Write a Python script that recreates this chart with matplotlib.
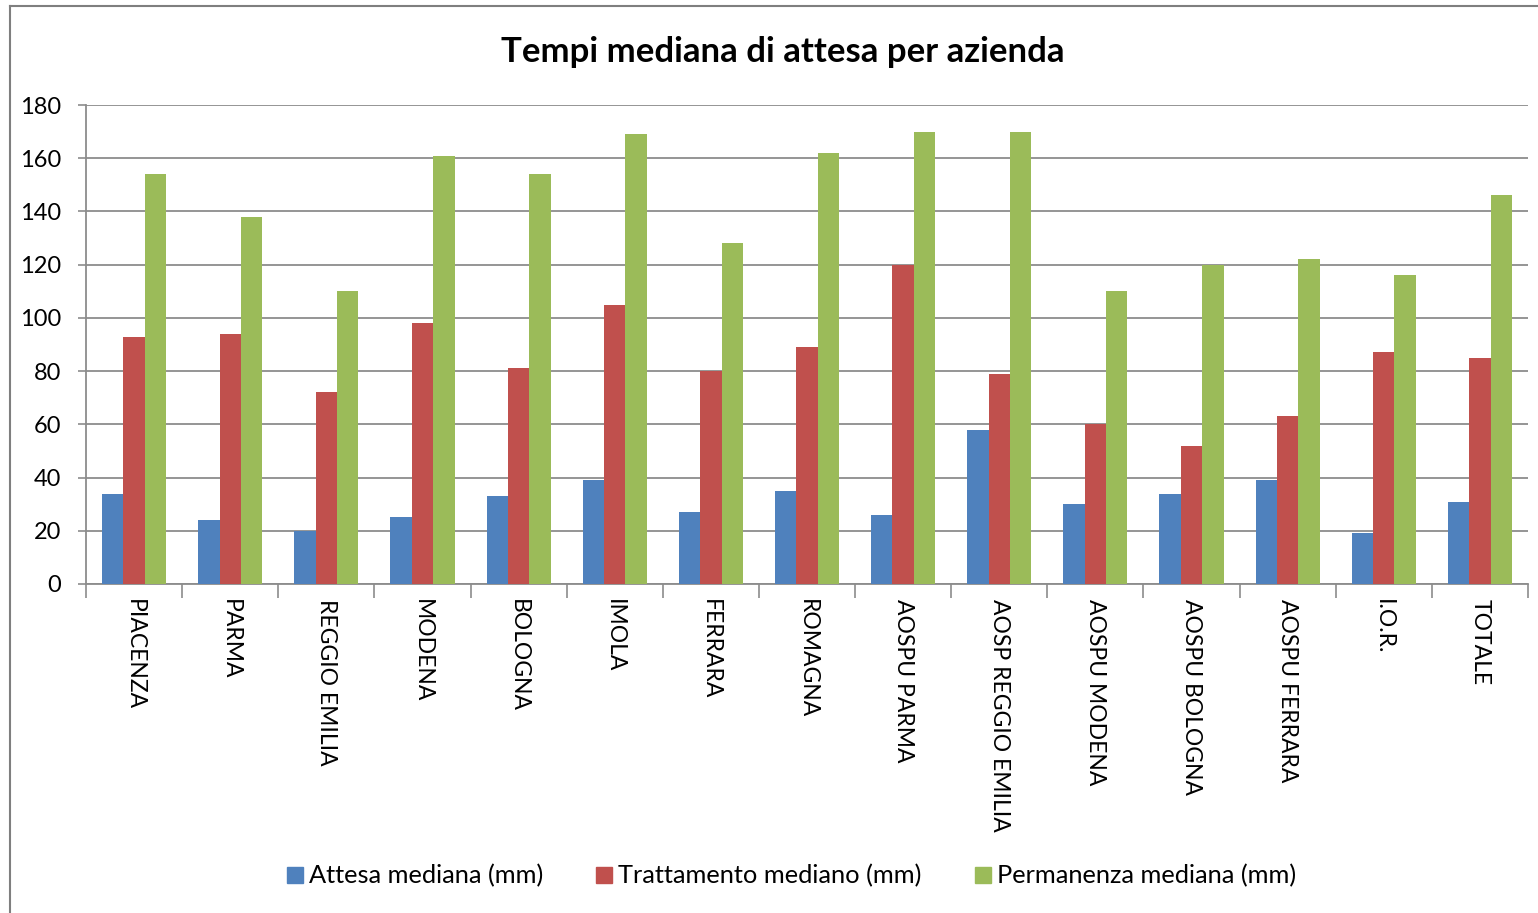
import numpy as np
import matplotlib
matplotlib.use("Agg")
import matplotlib.pyplot as plt
from matplotlib.lines import Line2D

plt.rcParams["font.family"] = ["Lato", "DejaVu Sans"]

aziende = ["PIACENZA", "PARMA", "REGGIO EMILIA", "MODENA", "BOLOGNA", "IMOLA",
           "FERRARA", "ROMAGNA", "AOSPU PARMA", "AOSP REGGIO EMILIA",
           "AOSPU MODENA", "AOSPU BOLOGNA", "AOSPU FERRARA", "I.O.R.", "TOTALE"]
attesa = [34, 24, 20, 25, 33, 39, 27, 35, 26, 58, 30, 34, 39, 19, 31]
trattamento = [93, 94, 72, 98, 81, 105, 80, 89, 120, 79, 60, 52, 63, 87, 85]
permanenza = [154, 138, 110, 161, 154, 169, 128, 162, 170, 170, 110, 120, 122, 116, 146]
serie = ["Attesa mediana (mm)", "Trattamento mediano (mm)", "Permanenza mediana (mm)"]

BLUE = "#4F81BD"
RED = "#C0504D"
GREEN = "#9BBB59"
GRID = "#8C8C8C"

fig = plt.figure(figsize=(15.38, 9.13), dpi=100)
ax = fig.add_axes([86 / 1538, 1 - 584 / 913, (1528 - 86) / 1538, (584 - 105) / 913])

x = np.arange(len(aziende))
w = 1 / 4.5
for i, (vals, col, lab) in enumerate(zip([attesa, trattamento, permanenza],
                                         [BLUE, RED, GREEN], serie)):
    ax.bar(x + (i - 1) * w, vals, width=w, color=col, label=lab, zorder=3)

ax.set_xlim(-0.5, len(aziende) - 0.5)
ax.set_ylim(0, 180)
ax.set_yticks(range(0, 181, 20))
ax.yaxis.grid(True, color=GRID, linewidth=1.3, zorder=0)
ax.tick_params(axis="y", labelsize=17, length=6, width=1.2, color=GRID, pad=12)

ax.set_xticks(x)
ax.set_xticklabels(aziende, rotation=270, fontsize=16.5, va="top", ha="center")
ax.tick_params(axis="x", length=0, pad=11)
ax.set_xticks(np.arange(-0.5, len(aziende)), minor=True)
ax.tick_params(axis="x", which="minor", length=10, width=1.2, color=GRID)

for s in ["top", "right"]:
    ax.spines[s].set_visible(False)
for s in ["left", "bottom"]:
    ax.spines[s].set_color(GRID)
    ax.spines[s].set_linewidth(1.3)

fig.text(783 / 1538, 1 - 52 / 913, "Tempi mediana di attesa per azienda",
         ha="center", va="center", fontsize=25, fontweight="bold")

handles = [Line2D([0], [0], marker="s", color="w", markerfacecolor=c,
                  markeredgecolor=c, markersize=11, label=l)
           for c, l in zip([BLUE, RED, GREEN], serie)]
fig.legend(handles=handles, loc="center", bbox_to_anchor=(789 / 1538, 1 - 876 / 913),
           ncol=3, frameon=False, fontsize=18.3, handletextpad=0.05,
           columnspacing=1.9, handlelength=1.0)

# chart area frame (left and top edges visible in the reference)
fig.add_artist(Line2D([10 / 1538, 10 / 1538], [0, 1 - 6 / 913],
                      transform=fig.transFigure, color="#7F7F7F", linewidth=1.5))
fig.add_artist(Line2D([10 / 1538, 1], [1 - 6 / 913, 1 - 6 / 913],
                      transform=fig.transFigure, color="#7F7F7F", linewidth=1.5))

fig.savefig("out.png", dpi=100)
